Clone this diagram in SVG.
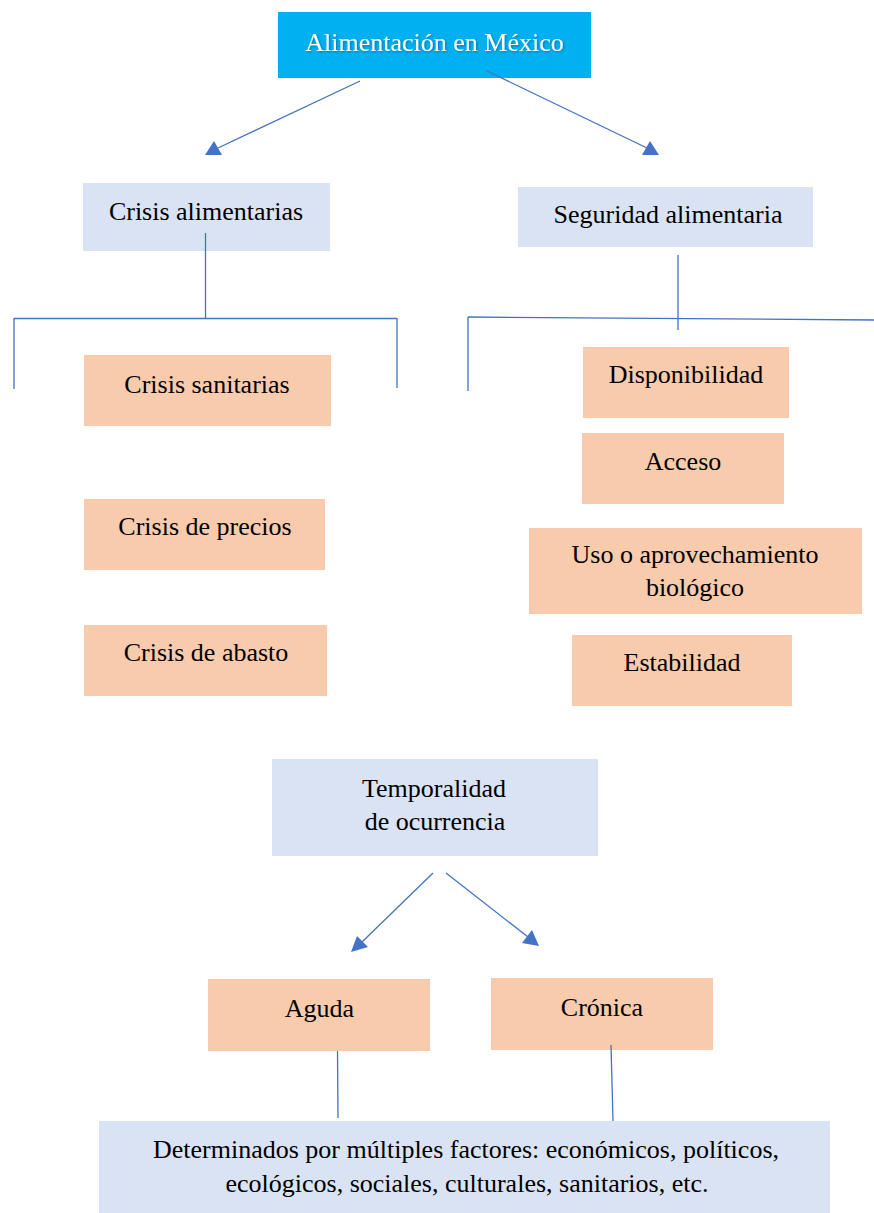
<svg xmlns="http://www.w3.org/2000/svg" width="874" height="1213" viewBox="0 0 874 1213">
<style>
  .t { font-family: "Liberation Serif", "Times New Roman", serif; font-size: 26px; fill: #000; text-anchor: middle; }
  .tw { fill: #fff; }
  .blue { fill: #DAE3F3; }
  .peach { fill: #F8CBAD; }
  .cyan { fill: #00B0F0; }
  .ln { stroke: #4472C4; stroke-width: 1.3; fill: none; }
  .ah { fill: #4472C4; stroke: none; }
</style>
<defs>
  <filter id="sh" x="-5%" y="-20%" width="110%" height="140%">
    <feDropShadow dx="1" dy="1" stdDeviation="0.8" flood-color="#000" flood-opacity="0.35"/>
  </filter>
</defs>
<rect width="874" height="1213" fill="#fff"/>

<g id="n-alimentacion">
  <rect class="cyan" x="278" y="12" width="313" height="66"/>
  <text class="t tw" x="434.5" y="51" filter="url(#sh)">Alimentación en México</text>
</g>
<g id="n-crisis-alimentarias">
  <rect class="blue" x="83" y="183" width="247" height="68"/>
  <text class="t" x="206" y="220">Crisis alimentarias</text>
</g>
<g id="n-seguridad">
  <rect class="blue" x="518" y="187" width="295" height="60"/>
  <text class="t" x="668" y="223">Seguridad alimentaria</text>
</g>
<g id="n-sanitarias">
  <rect class="peach" x="84" y="355" width="247" height="71"/>
  <text class="t" x="207" y="393">Crisis sanitarias</text>
</g>
<g id="n-precios">
  <rect class="peach" x="84" y="499" width="241" height="71"/>
  <text class="t" x="205" y="535">Crisis de precios</text>
</g>
<g id="n-abasto">
  <rect class="peach" x="84" y="625" width="243" height="71"/>
  <text class="t" x="206" y="661">Crisis de abasto</text>
</g>
<g id="n-disponibilidad">
  <rect class="peach" x="583" y="347" width="206" height="71"/>
  <text class="t" x="686" y="383">Disponibilidad</text>
</g>
<g id="n-acceso">
  <rect class="peach" x="582" y="433" width="202" height="71"/>
  <text class="t" x="683" y="470">Acceso</text>
</g>
<g id="n-uso">
  <rect class="peach" x="529" y="528" width="333" height="86"/>
  <text class="t" x="695" y="563">Uso o aprovechamiento</text>
  <text class="t" x="695" y="596">biológico</text>
</g>
<g id="n-estabilidad">
  <rect class="peach" x="572" y="635" width="220" height="71"/>
  <text class="t" x="682" y="671">Estabilidad</text>
</g>
<g id="n-temporalidad">
  <rect class="blue" x="272" y="759" width="326" height="97"/>
  <text class="t" x="434" y="797">Temporalidad</text>
  <text class="t" x="435" y="830">de ocurrencia</text>
</g>
<g id="n-aguda">
  <rect class="peach" x="208" y="979" width="222" height="72"/>
  <text class="t" x="319.5" y="1017">Aguda</text>
</g>
<g id="n-cronica">
  <rect class="peach" x="491" y="978" width="222" height="72"/>
  <text class="t" x="602" y="1016">Crónica</text>
</g>
<g id="n-determinados">
  <rect class="blue" x="99" y="1121" width="731" height="92"/>
  <text class="t" x="466" y="1158">Determinados por múltiples factores: económicos, políticos,</text>
  <text class="t" x="467" y="1192">ecológicos, sociales, culturales, sanitarios, etc.</text>
</g>

<g id="connectors">
  <line class="ln" x1="360" y1="81" x2="218" y2="148"/>
  <polygon class="ah" points="205,155 222,155 214,141"/>
  <line class="ln" x1="487" y1="71" x2="647" y2="148"/>
  <polygon class="ah" points="642,155 659,155 650,141"/>

  <line class="ln" x1="205.5" y1="233" x2="205.5" y2="318"/>
  <line class="ln" x1="14" y1="318.5" x2="397" y2="318.5"/>
  <line class="ln" x1="14" y1="318" x2="14" y2="389"/>
  <line class="ln" x1="397" y1="318" x2="397" y2="388"/>

  <line class="ln" x1="678" y1="255" x2="678" y2="330"/>
  <line class="ln" x1="468" y1="317" x2="874" y2="320"/>
  <line class="ln" x1="468" y1="317" x2="468" y2="391"/>

  <line class="ln" x1="433" y1="873" x2="362" y2="942"/>
  <polygon class="ah" points="351,952 368,947 357,936"/>
  <line class="ln" x1="446" y1="873" x2="528" y2="937"/>
  <polygon class="ah" points="539,946 522,943 532,930"/>

  <line class="ln" x1="337.5" y1="1051" x2="338" y2="1118"/>
  <line class="ln" x1="611" y1="1045" x2="613" y2="1121"/>
</g>
</svg>
